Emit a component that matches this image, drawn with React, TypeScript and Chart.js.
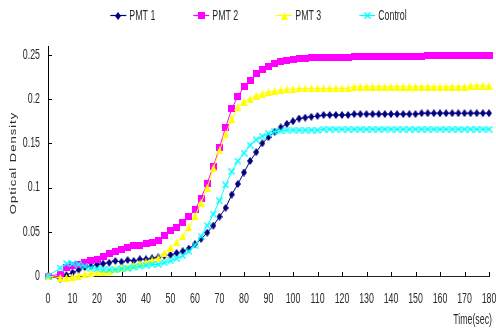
import React, { useEffect, useRef } from 'react';
import { Chart, registerables } from 'chart.js';

Chart.register(...registerables);

// ---- data ----
const times = [0, 5, 7.5, 10, 12.5, 15, 17.5, 20, 22.5, 25, 27.5, 30, 32.5, 35, 37.5, 40, 42.5, 45, 47.5, 50,
  52.5, 55, 57.5, 60, 62.5, 65, 67.5, 70, 72.5, 75, 77.5, 80, 82.5, 85, 87.5, 90, 92.5, 95, 97.5, 100,
  102.5, 105, 107.5, 110, 112.5, 115, 117.5, 120, 122.5, 125, 127.5, 130, 132.5, 135, 137.5, 140, 142.5,
  145, 147.5, 150, 152.5, 155, 157.5, 160, 162.5, 165, 167.5, 170, 172.5, 175, 177.5, 180];

const pmt1 = [0, -0.003, 0.001, 0.004, 0.007, 0.010, 0.011, 0.013, 0.014, 0.015, 0.017, 0.016, 0.018, 0.017, 0.019, 0.019, 0.020, 0.021, 0.023, 0.024,
  0.026, 0.028, 0.031, 0.036, 0.042, 0.049, 0.057, 0.067, 0.077, 0.092, 0.104, 0.117, 0.130, 0.140, 0.150, 0.157, 0.163, 0.168, 0.172, 0.175,
  0.178, 0.179, 0.180, 0.181, 0.182, 0.182, 0.182, 0.182, 0.182,
  0.183, 0.183, 0.183, 0.183, 0.183, 0.183, 0.183, 0.183, 0.183, 0.183, 0.183,
  0.184, 0.184, 0.184, 0.184, 0.184, 0.184, 0.184, 0.184, 0.184, 0.184, 0.184, 0.184];

const pmt2 = [0, 0.002, 0.010, 0.012, 0.013, 0.015, 0.017, 0.019, 0.022, 0.025, 0.028, 0.030, 0.032, 0.034, 0.035, 0.037, 0.038, 0.040, 0.046, 0.051,
  0.055, 0.060, 0.067, 0.075, 0.088, 0.105, 0.124, 0.145, 0.168, 0.189, 0.203, 0.214, 0.221, 0.229, 0.234, 0.237, 0.240, 0.242, 0.244, 0.245,
  0.246, 0.246, 0.247, 0.247, 0.247, 0.247, 0.247, 0.247, 0.247,
  0.248, 0.248, 0.248, 0.248, 0.248, 0.248, 0.248, 0.248, 0.248, 0.248, 0.248, 0.248,
  0.249, 0.249, 0.249, 0.249, 0.249, 0.249, 0.249, 0.249, 0.249, 0.249, 0.249];

const pmt3 = [0, -0.002, -0.002, -0.001, 0.000, 0.002, 0.003, 0.004, 0.005, 0.006, 0.008, 0.009, 0.010, 0.012, 0.014, 0.016, 0.018, 0.020, 0.026, 0.032,
  0.038, 0.045, 0.055, 0.068, 0.083, 0.100, 0.122, 0.142, 0.160, 0.178, 0.191, 0.197, 0.200, 0.204, 0.206, 0.208, 0.209, 0.210, 0.211, 0.211,
  0.212, 0.212, 0.212, 0.212, 0.212, 0.212, 0.212, 0.212, 0.212,
  0.214, 0.214, 0.214, 0.214, 0.214, 0.214, 0.214, 0.214, 0.214, 0.214, 0.214, 0.214, 0.214, 0.214, 0.214, 0.214, 0.214, 0.214, 0.214,
  0.215, 0.215, 0.215, 0.215];

const control = [0, 0.009, 0.014, 0.014, 0.013, 0.011, 0.009, 0.008, 0.007, 0.007, 0.007, 0.008, 0.009, 0.010, 0.011, 0.012, 0.013, 0.013, 0.015, 0.017,
  0.020, 0.023, 0.028, 0.035, 0.045, 0.057, 0.070, 0.085, 0.103, 0.118, 0.130, 0.139, 0.148, 0.154, 0.158, 0.161, 0.163, 0.164, 0.165, 0.165,
  0.165, 0.165, 0.165, 0.165,
  0.166, 0.166, 0.166, 0.166, 0.166, 0.166, 0.166, 0.166, 0.166, 0.166, 0.166, 0.166, 0.166, 0.166,
  0.166, 0.166, 0.166, 0.166, 0.166, 0.166, 0.166, 0.166, 0.166, 0.166, 0.166, 0.166, 0.166, 0.166];

const seriesNames = ['PMT 1', 'PMT 2', 'PMT 3', 'Control'];
const seriesValues = [pmt1, pmt2, pmt3, control];
const xTicks = [0, 10, 20, 30, 40, 50, 60, 70, 80, 90, 100, 110, 120, 130, 140, 150, 160, 170, 180];
const xTickLabels = ['0', '10', '20', '30', '40', '50', '60', '70', '80', '90', '100', '110', '120', '130', '140', '150', '160', '170', '180'];
const yTicks = [0, 0.05, 0.1, 0.15, 0.2, 0.25];
const yTickLabels = ['0', '0.05', '0.1', '0.15', '0.2', '0.25'];
const xTitle = 'Time(sec)';
const yTitle = 'Optical Density';

// ---- styles ----
const colors = ['#000080', '#FF00FF', '#FFFF00', '#00FFFF'];
const markerKinds = ['diamond', 'square', 'triangle', 'cross'];
const FONT = '"Liberation Sans", Arial, sans-serif';
const TEXT_COLOR = '#2a2a2a';
const SX = 0.63;
const FONT_SIZE = 14;

function makeMarker(kind: string, color: string): HTMLCanvasElement {
  const c = document.createElement('canvas');
  let w = 6, h = 6;
  if (kind === 'diamond') { w = 6; h = 8; }
  if (kind === 'square') { w = 7; h = 7; }
  if (kind === 'triangle') { w = 7; h = 8; }
  if (kind === 'cross') { w = 7; h = 7; }
  c.width = w; c.height = h;
  const g = c.getContext('2d')!;
  g.fillStyle = color;
  g.strokeStyle = color;
  g.beginPath();
  if (kind === 'diamond') {
    g.moveTo(w / 2, 0); g.lineTo(w, h / 2); g.lineTo(w / 2, h); g.lineTo(0, h / 2); g.closePath(); g.fill();
  } else if (kind === 'square') {
    g.fillRect(0, 0, w, h);
  } else if (kind === 'triangle') {
    g.moveTo(w / 2, 0); g.lineTo(w, h); g.lineTo(0, h); g.closePath(); g.fill();
  } else {
    g.lineWidth = 1.5;
    g.moveTo(0.5, 0.5); g.lineTo(w - 0.5, h - 0.5);
    g.moveTo(w - 0.5, 0.5); g.lineTo(0.5, h - 0.5);
    g.stroke();
  }
  return c;
}

function squishText(ctx: CanvasRenderingContext2D, text: string, x: number, y: number, align: CanvasTextAlign) {
  ctx.save();
  ctx.translate(x, y);
  ctx.scale(SX, 1);
  ctx.textAlign = align;
  ctx.textBaseline = 'middle';
  ctx.fillText(text, 0, 0);
  ctx.restore();
}

export default function App() {
  const ref = useRef<HTMLCanvasElement | null>(null);

  useEffect(() => {
    const canvas = ref.current;
    if (!canvas) return;
    const markers = markerKinds.map((k, i) => makeMarker(k, colors[i]));

    const decorPlugin = {
      id: 'decor',
      beforeDatasetsDraw(chart: any) {
        const ctx = chart.ctx as CanvasRenderingContext2D;
        const xs = chart.scales.x;
        const ys = chart.scales.y;
        const area = chart.chartArea;
        ctx.save();
        ctx.strokeStyle = '#000';
        ctx.lineWidth = 1;
        ctx.beginPath();
        yTicks.forEach((v) => {
          const py = Math.round(ys.getPixelForValue(v)) + 0.5;
          ctx.moveTo(area.left, py); ctx.lineTo(area.left + 4, py);
        });
        xTicks.forEach((v) => {
          const px = Math.round(xs.getPixelForValue(v)) + 0.5;
          ctx.moveTo(px, area.bottom); ctx.lineTo(px, area.bottom - 4);
        });
        ctx.stroke();
        ctx.restore();
      },
      afterDraw(chart: any) {
        const ctx = chart.ctx as CanvasRenderingContext2D;
        const xs = chart.scales.x;
        const ys = chart.scales.y;
        const area = chart.chartArea;
        ctx.save();
        ctx.fillStyle = TEXT_COLOR;
        ctx.font = `${FONT_SIZE}px ${FONT}`;
        yTicks.forEach((v, i) => {
          squishText(ctx, yTickLabels[i], area.left - 8, ys.getPixelForValue(v), 'right');
        });
        xTicks.forEach((v, i) => {
          squishText(ctx, xTickLabels[i], xs.getPixelForValue(v), area.bottom + 23, 'center');
        });
        squishText(ctx, xTitle, area.right + 3, area.bottom + 44, 'right');

        // y title
        ctx.save();
        ctx.translate(13.5, (area.top + area.bottom) / 2 + 2);
        ctx.rotate(-Math.PI / 2);
        ctx.scale(1, 0.72);
        ctx.font = `13px ${FONT}`;
        (ctx as any).letterSpacing = '1px';
        ctx.textAlign = 'center';
        ctx.textBaseline = 'middle';
        ctx.fillText(yTitle, 0, 0);
        ctx.restore();

        // legend
        ctx.font = `${FONT_SIZE}px ${FONT}`;
        const lineLen = 16, gapText = 3, gapItem = 38;
        const widths = seriesNames.map((n) => ctx.measureText(n).width * SX);
        const total = widths.reduce((a, b) => a + b, 0) + seriesNames.length * (lineLen + gapText) + gapItem * (seriesNames.length - 1);
        let lx = 258.5 - total / 2;
        const ly = 15;
        seriesNames.forEach((n, i) => {
          ctx.save();
          ctx.strokeStyle = colors[i];
          ctx.lineWidth = 1.2;
          ctx.beginPath();
          ctx.moveTo(lx, ly + 0.5); ctx.lineTo(lx + lineLen, ly + 0.5);
          ctx.stroke();
          const m = markers[i];
          ctx.drawImage(m, Math.round(lx + lineLen / 2 - m.width / 2), Math.round(ly + 0.5 - m.height / 2));
          ctx.restore();
          ctx.fillStyle = TEXT_COLOR;
          squishText(ctx, n, lx + lineLen + gapText, ly + 1, 'left');
          lx += lineLen + gapText + widths[i] + gapItem;
        });
        ctx.restore();
      },
    };

    const datasets = seriesNames.map((name, i) => ({
      label: name,
      data: times.map((t, k) => ({ x: t, y: seriesValues[i][k] })),
      borderColor: colors[i],
      backgroundColor: colors[i],
      borderWidth: 1,
      pointStyle: markers[i],
      pointRadius: 3,
      pointHoverRadius: 3,
      tension: 0,
      fill: false,
      clip: false,
      order: seriesNames.length - i,
    }));

    const chart = new Chart(canvas, {
      type: 'line',
      data: { datasets },
      options: {
        animation: false,
        responsive: false,
        events: [],
        layout: { padding: { top: 46, right: 7, left: 0, bottom: 0 } },
        plugins: { legend: { display: false }, tooltip: { enabled: false } },
        scales: {
          x: {
            type: 'linear',
            min: 0,
            max: 180,
            grid: { display: false, drawTicks: false },
            border: { display: true, color: '#222', width: 1 },
            ticks: { display: false },
            afterBuildTicks: (s: any) => { s.ticks = xTicks.map((v) => ({ value: v })); },
            afterFit: (s: any) => { s.height = 52; },
          },
          y: {
            type: 'linear',
            min: 0,
            max: 0.26,
            grid: { display: false, drawTicks: false },
            border: { display: true, color: '#000', width: 1 },
            ticks: { display: false },
            afterBuildTicks: (s: any) => { s.ticks = yTicks.map((v) => ({ value: v })); },
            afterFit: (s: any) => { s.width = 48; },
          },
        },
      } as any,
      plugins: [decorPlugin],
    });
    return () => chart.destroy();
  }, []);

  return (
    <div style={{ position: 'absolute', left: 0, top: 0, width: 496, height: 328, background: '#fff' }}>
      <canvas ref={ref} width={496} height={328} style={{ display: 'block', width: 496, height: 328 }} />
    </div>
  );
}
